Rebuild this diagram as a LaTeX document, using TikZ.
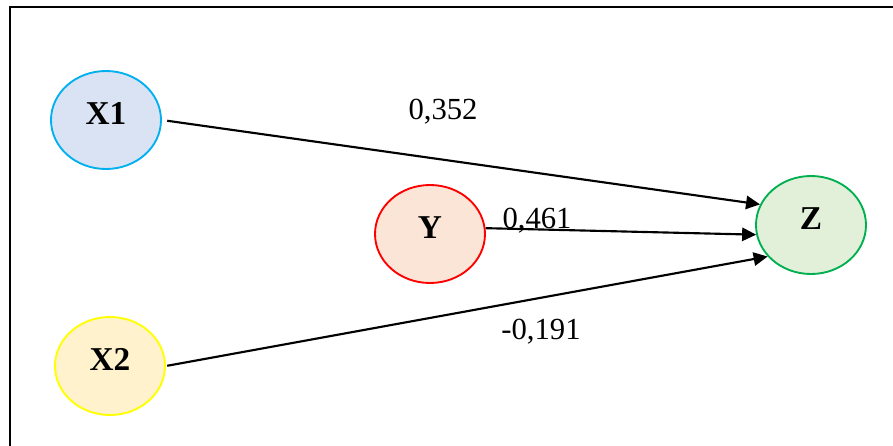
\documentclass[tikz,border=0pt]{standalone}
\usepackage{fontspec}
\setmainfont{Liberation Serif}
\usetikzlibrary{positioning, shapes.geometric, arrows.meta}
\definecolor{skyline}{RGB}{0, 176, 240}
\definecolor{skyfill}{RGB}{218, 227, 243}
\definecolor{sunline}{RGB}{255, 255, 0}
\definecolor{sunfill}{RGB}{255, 242, 204}
\definecolor{redline}{RGB}{255, 0, 0}
\definecolor{peachfill}{RGB}{251, 229, 214}
\definecolor{leafline}{RGB}{0, 176, 80}
\definecolor{leaffill}{RGB}{226, 240, 217}
\newcommand{\varlabel}[1]{\raisebox{5pt}[\height][\depth]{#1}}

\begin{document}
\begin{tikzpicture}[
    x=0.75pt, y=-0.75pt,
    varnode/.style={ellipse, line width=1.4pt, minimum width=82.5pt, minimum height=73.5pt, inner sep=0pt, font=\fontsize{25}{29}\selectfont\bfseries},
    pathlabel/.style={font=\fontsize{23}{27}\selectfont},
    causal/.style={-{Triangle[length=10.5pt, width=10pt]}, line width=1.6pt, black}
]

    % =========================================================================
    % FRAME
    % =========================================================================
    \useasboundingbox (0, 0) rectangle (893, 446);
    \clip (0, 0) rectangle (893, 446);
    \draw[line width=1.6pt] (10, 7) rectangle (905, 460);

    % =========================================================================
    % VARIABLES
    % =========================================================================
    \node[varnode, draw=skyline, fill=skyfill] (X1) at (106, 120) {\varlabel{X1}};
    \node[varnode, draw=sunline, fill=sunfill] (X2) at (110, 366) {\varlabel{X2}};
    \node[varnode, draw=redline, fill=peachfill] (Y) at (430, 234) {\varlabel{Y}};
    \node[varnode, draw=leafline, fill=leaffill] (Z) at (811, 225) {\varlabel{Z}};

    % =========================================================================
    % PATHS
    % =========================================================================
    \draw[causal, shorten <=4pt] (X1.east) -- (Z.158);
    \draw[causal] (Y.6) -- (Z.190);
    \draw[causal, shorten <=1pt] (X2.east) -- (Z.216);

    % Coefficients
    \node[pathlabel] (bX1) at (443, 112) {0,352};
    \node[pathlabel] (bY) at (537, 221) {0,461};
    \node[pathlabel] (bX2) at (541, 332) {-0,191};

\end{tikzpicture}
\end{document}
